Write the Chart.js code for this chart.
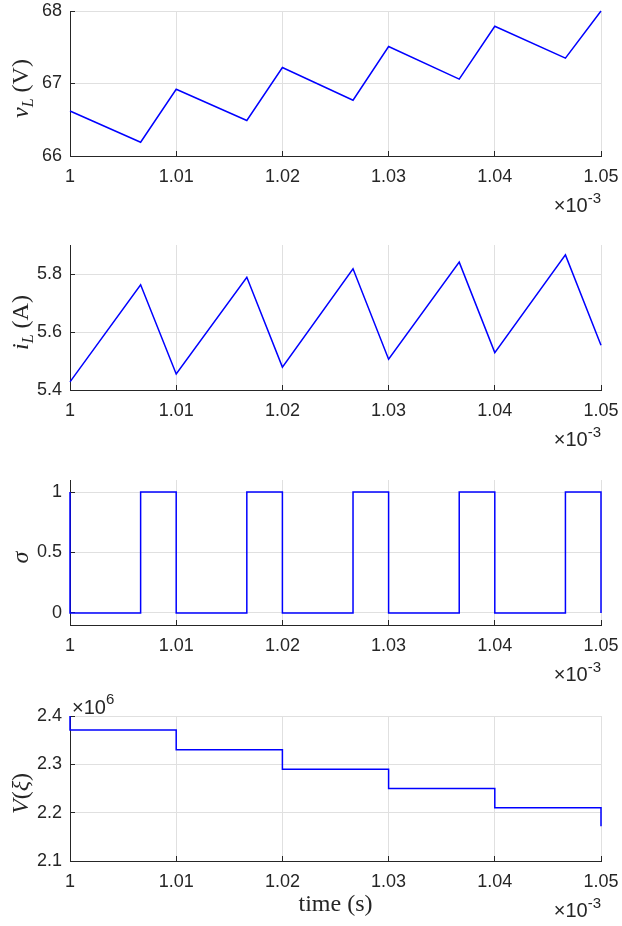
<!DOCTYPE html>
<html>
<head>
<meta charset="utf-8">
<script src="https://cdn.jsdelivr.net/npm/chart.js@4.4.0/dist/chart.umd.min.js"></script>
<style>
  body { margin: 0; background: #fff; width: 622px; height: 926px; overflow: hidden; position: relative; }
  .panel { position: absolute; left: 0; }
</style>
</head>
<body>
<div class="panel" id="p0"><canvas id="c0"></canvas></div>
<div class="panel" id="p1"><canvas id="c1"></canvas></div>
<div class="panel" id="p2"><canvas id="c2"></canvas></div>
<div class="panel" id="p3"><canvas id="c3"></canvas></div>
<script>
// time in units of 1e-3 s
const timeTicks = [1, 1.01, 1.02, 1.03, 1.04, 1.05];

// switching instants of the sawtooth signals
const sawTimes = [1, 1.00665, 1.01, 1.01665, 1.02, 1.02665, 1.03, 1.03665, 1.04, 1.04665, 1.05];
const vL = [66.62, 66.19, 66.92, 66.49, 67.22, 66.77, 67.51, 67.06, 67.79, 67.35, 68.0];
const iL = [5.428, 5.763, 5.455, 5.789, 5.479, 5.818, 5.506, 5.841, 5.529, 5.866, 5.554];

// switch signal (stepped)
const sigmaTimes = [1, 1, 1.00665, 1.01, 1.01665, 1.02, 1.02665, 1.03, 1.03665, 1.04, 1.04665, 1.05];
const sigma = [1, 0, 1, 0, 1, 0, 1, 0, 1, 0, 1, 0];

// Lyapunov function, in units of 1e6 (stepped)
const vXiTimes = [1, 1, 1.01, 1.02, 1.03, 1.04, 1.05];
const vXi = [2.4, 2.371, 2.33, 2.29, 2.25, 2.21, 2.172];

const vLTicks = [66, 67, 68];
const iLTicks = [5.4, 5.6, 5.8];
const sigmaTicks = [0, 0.5, 1];
const vXiTicks = [2.1, 2.2, 2.3, 2.4];

const textColor = '#262626';
const axisColor = '#262626';
const gridColor = '#e0e0e0';
const sansFont = "'Liberation Sans', Arial, sans-serif";
const serifFont = "'Liberation Serif', 'Times New Roman', serif";

const panels = [
  { top: 11, x: sawTimes, y: vL, min: 66, max: 68, ticks: vLTicks,
    title: [{ t: 'v', i: true }, { t: 'L', i: true, sub: true }, { t: ' (V)' }] },
  { top: 245, x: sawTimes, y: iL, min: 5.4, max: 5.9, ticks: iLTicks,
    title: [{ t: 'i', i: true }, { t: 'L', i: true, sub: true }, { t: ' (A)' }] },
  { top: 480, x: sigmaTimes, y: sigma, min: -0.1, max: 1.1, ticks: sigmaTicks, stepped: 'before',
    title: [{ t: 'σ', i: true }] },
  { top: 716, x: vXiTimes, y: vXi, min: 2.1, max: 2.4, ticks: vXiTicks, stepped: 'before',
    title: [{ t: 'V', i: true }, { t: '(' }, { t: 'ξ', i: true }, { t: ')' }],
    yExp: '6', xLabel: 'time (s)' }
];

const fmt = v => String(+v.toFixed(3));
const align = (px) => Math.round(px - 0.5) + 0.5;

function decor(p) {
  return {
    id: 'decor',
    beforeDatasetsDraw(chart) {
      const { ctx, chartArea: a, scales } = chart;
      ctx.save();
      ctx.strokeStyle = axisColor;
      ctx.lineWidth = 1;
      ctx.beginPath();
      timeTicks.forEach(v => {
        const px = align(scales.x.getPixelForValue(v));
        ctx.moveTo(px, a.bottom);
        ctx.lineTo(px, a.bottom - 5);
      });
      p.ticks.forEach(v => {
        const py = align(scales.y.getPixelForValue(v));
        ctx.moveTo(a.left, py);
        ctx.lineTo(a.left + 5, py);
      });
      ctx.stroke();
      ctx.restore();
    },
    afterDraw(chart) {
      const { ctx, chartArea: a } = chart;
      ctx.save();
      ctx.fillStyle = textColor;
      ctx.textBaseline = 'alphabetic';

      // x10^-3 under the time axis
      ctx.font = '15px ' + sansFont;
      const expW = ctx.measureText('-3').width;
      ctx.textAlign = 'right';
      ctx.fillText('-3', a.right, a.bottom + 47);
      ctx.font = '20px ' + sansFont;
      ctx.fillText('×10', a.right - expW, a.bottom + 56);

      // x10^6 above the y axis
      if (p.yExp) {
        ctx.textAlign = 'left';
        ctx.font = '20px ' + sansFont;
        ctx.fillText('×10', a.left + 2, a.top - 2);
        const w = ctx.measureText('×10').width;
        ctx.font = '15px ' + sansFont;
        ctx.fillText(p.yExp, a.left + 2 + w, a.top - 12);
      }

      // x label
      if (p.xLabel) {
        ctx.textAlign = 'center';
        ctx.font = '24px ' + serifFont;
        ctx.fillText(p.xLabel, (a.left + a.right) / 2, a.bottom + 50);
      }

      // y label, rotated
      const seg = p.title.map(s => {
        const f = (s.i ? 'italic ' : '') + (s.sub ? '16px ' : '24px ') + serifFont;
        ctx.font = f;
        return { ...s, f, w: ctx.measureText(s.t).width };
      });
      const total = seg.reduce((s, g) => s + g.w, 0);
      ctx.translate(28, (a.top + a.bottom) / 2 + 5);
      ctx.rotate(-Math.PI / 2);
      ctx.textAlign = 'left';
      let x = -total / 2;
      seg.forEach(g => {
        ctx.font = g.f;
        ctx.fillText(g.t, x, g.sub ? 5 : 0);
        x += g.w;
      });
      ctx.restore();
    }
  };
}

panels.forEach((p, k) => {
  const padTop = 30, plotH = 145, axisH = 70;
  const H = padTop + plotH + axisH;
  const wrap = document.getElementById('p' + k);
  wrap.style.top = (p.top - padTop) + 'px';
  const canvas = document.getElementById('c' + k);
  canvas.width = 622;
  canvas.height = H;

  new Chart(canvas, {
    type: 'line',
    data: {
      datasets: [{
        data: p.x.map((t, i) => ({ x: t, y: p.y[i] })),
        borderColor: '#0000ff',
        borderWidth: 1.5,
        pointRadius: 0,
        fill: false,
        tension: 0,
        stepped: p.stepped || false,
        clip: 4
      }]
    },
    options: {
      responsive: false,
      animation: false,
      events: [],
      layout: { padding: { top: padTop, right: 21, left: 0, bottom: 0 } },
      plugins: { legend: { display: false }, tooltip: { enabled: false } },
      scales: {
        x: {
          type: 'linear', min: 1, max: 1.05,
          afterBuildTicks: s => { s.ticks = timeTicks.map(v => ({ value: v })); },
          afterFit: s => { s.height = axisH; s.paddingLeft = 0; s.paddingRight = 0; },
          grid: { color: gridColor, drawTicks: false },
          border: { color: axisColor, width: 1 },
          ticks: {
            padding: 10, color: textColor, maxRotation: 0, autoSkip: false,
            font: { family: sansFont, size: 18 },
            callback: v => fmt(v)
          }
        },
        y: {
          type: 'linear', min: p.min, max: p.max,
          afterBuildTicks: s => { s.ticks = p.ticks.map(v => ({ value: v })); },
          afterFit: s => { s.width = 70; s.paddingTop = 0; s.paddingBottom = 0; },
          grid: { color: gridColor, drawTicks: false },
          border: { color: axisColor, width: 1 },
          ticks: {
            padding: 8, color: textColor, autoSkip: false,
            font: { family: sansFont, size: 18 },
            callback: v => fmt(v)
          }
        }
      }
    },
    plugins: [decor(p)]
  });
});
</script>
</body>
</html>
